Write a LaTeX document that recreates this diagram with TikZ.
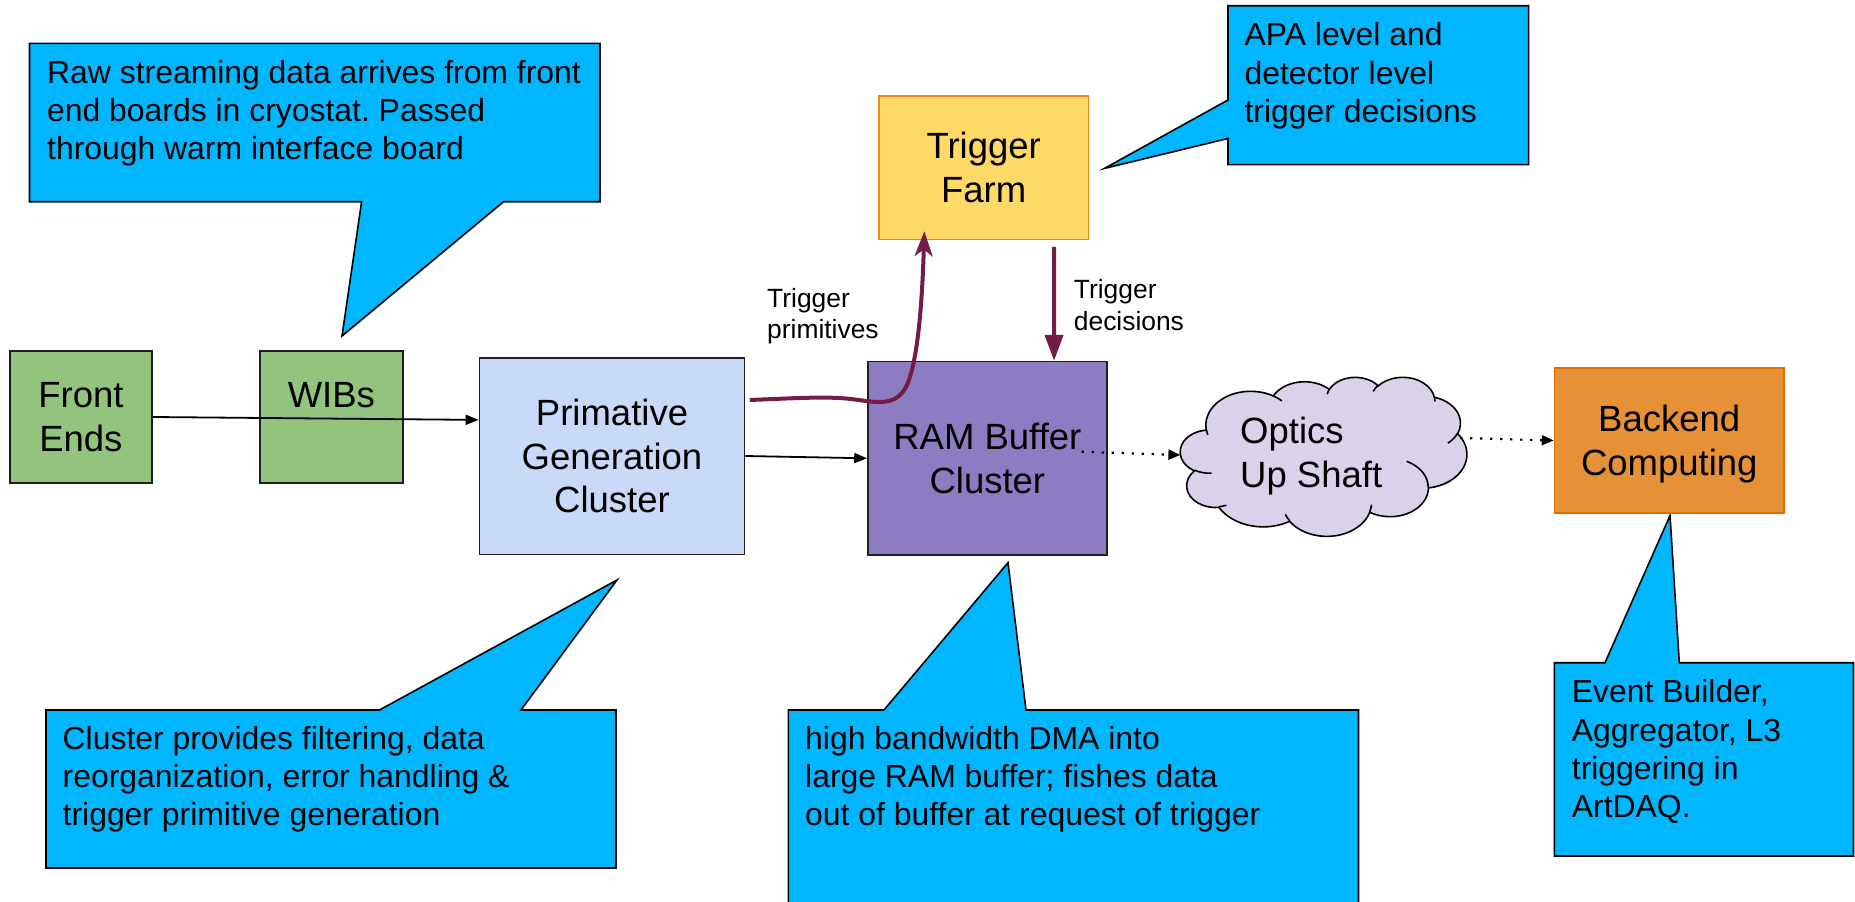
\documentclass[tikz,border=0pt]{standalone}
\usepackage{fontspec}
\setmainfont{Liberation Sans}
\usetikzlibrary{arrows.meta}
\frenchspacing

\definecolor{noteblue}{HTML}{00B7FF}
\definecolor{fegreen}{HTML}{93C47D}
\definecolor{pgcblue}{HTML}{C9DAF8}
\definecolor{tfyellow}{HTML}{FFD966}
\definecolor{tfedge}{HTML}{E98B1E}
\definecolor{rampurple}{HTML}{8E7CC3}
\definecolor{cloudlilac}{HTML}{D9D2E9}
\definecolor{beorange}{HTML}{E69138}
\definecolor{beedge}{HTML}{E06F00}
\definecolor{trigmaroon}{HTML}{741B47}
\definecolor{boxedge}{HTML}{1F1F1F}

% Elliptic arc helper for the cloud outline: radii wR, hR and a start
% angle / sweep given as visual angles; stores the matching parametric
% start and end angles in \clds<name> and \clde<name>.
\newcommand\cloudseg[5]{%
  \pgfmathparse{atan2((#2)*sin(#4),(#3)*cos(#4))}\edef\cldtmpa{\pgfmathresult}%
  \pgfmathparse{atan2((#2)*sin((#4)+(#5)),(#3)*cos((#4)+(#5)))}\edef\cldtmpe{\pgfmathresult}%
  \pgfmathparse{\cldtmpe+360*round((\cldtmpa+(#5)-\cldtmpe)/360)}\edef\cldtmpb{\pgfmathresult}%
  \expandafter\xdef\csname clds#1\endcsname{\cldtmpa}%
  \expandafter\xdef\csname clde#1\endcsname{\cldtmpb}%
}

\begin{document}
\begin{tikzpicture}[x=1pt, y=-1pt,
  box/.style={draw=boxedge, line width=1.6pt, inner sep=0pt, align=center,
              font=\fontsize{36.5}{43.5}\selectfont},
  note/.style={fill=noteblue, draw=black, line width=1.6pt, line join=miter},
  notetext/.style={anchor=north west, inner sep=0pt, align=left,
                   font=\fontsize{31.9}{38.3}\selectfont},
  smalllabel/.style={anchor=north west, inner sep=0pt, align=left,
                     font=\fontsize{26.4}{31.4}\selectfont},
  flow/.style={draw=black, line width=1.8pt, -{Triangle[length=13pt,width=10pt]}},
  link/.style={draw=black, line width=2.2pt, dash pattern=on 2.2pt off 7.8pt,
               -{Triangle[length=12pt,width=10pt]}},
  trig/.style={draw=trigmaroon, line width=4pt},
  cloudline/.style={draw=black, line width=1.6pt}
]
\useasboundingbox (0,0) rectangle (1855,902);

% ---------- callouts ----------
\draw[note] (29.5,43.3) -- (600,43.3) -- (600,201.7) -- (503.6,201.7)
  -- (342,336) -- (361.6,201.7) -- (29.5,201.7) -- cycle;
\node[notetext] (n1) at (47,59.7)
  {Raw streaming data arrives from front\\end boards in cryostat. Passed\\through warm interface board};

\draw[note] (46,710) -- (379.5,710) -- (617,580) -- (521,710) -- (616,710)
  -- (616,868) -- (46,868) -- cycle;
\node[notetext] (n2) at (62.5,726)
  {Cluster provides filtering, data\\reorganization, error handling \&\\trigger primitive generation};

\draw[note] (788.4,710) -- (884,710) -- (1008,562.7) -- (1026,710) -- (1358.5,710)
  -- (1358.5,915) -- (788.4,915) -- cycle;
\node[notetext] (n3) at (805,726)
  {high bandwidth DMA into\\large RAM buffer; fishes data\\out of buffer at request of trigger};

\draw[note] (1228,5.7) -- (1528.6,5.7) -- (1528.6,164.6) -- (1228,164.6)
  -- (1228,138.5) -- (1104.5,168.4) -- (1228,100) -- cycle;
\node[notetext] (n4) at (1244.4,22.4)
  {APA level and\\detector level\\trigger decisions};

\draw[note] (1554.3,662.7) -- (1605,662.7) -- (1670,515.5) -- (1679.3,662.7)
  -- (1853.5,662.7) -- (1853.5,856) -- (1554.3,856) -- cycle;
\node[notetext] (n5) at (1571.7,679.5)
  {Event Builder,\\Aggregator, L3\\triggering in\\ArtDAQ.};

% ---------- blocks ----------
\node[box, fill=fegreen, minimum width=142.2pt, minimum height=132pt] (fe) at (80.9,417) {Front\\Ends};
\node[box, fill=fegreen, minimum width=142.7pt, minimum height=132pt] (wib) at (331.35,417) {WIBs\\\mbox{}};
\node[box, fill=pgcblue, minimum width=265pt, minimum height=196.6pt] (pgc) at (612,456) {Primative\\Generation\\Cluster};
\node[box, fill=tfyellow, draw=tfedge, minimum width=209.4pt, minimum height=143.8pt] (tf) at (983.7,167.6) {Trigger\\Farm};
\node[box, fill=rampurple, minimum width=238.7pt, minimum height=193.4pt] (ram) at (987.35,458.3) {RAM Buffer\\Cluster};
\node[box, fill=beorange, draw=beedge, text depth=0pt, minimum width=229.5pt, minimum height=145pt] (be) at (1669.25,440.5) {Backend\\Computing};

% ---------- cloud ----------
\node[minimum width=286.4pt, minimum height=159pt, inner sep=0pt] (cloud) at (1323.8,456.5) {};
\cloudseg{A}{67.53}{91.90}{-190.4875}{123.7805}
\cloudseg{B}{53.33}{72.67}{-144.1024}{89.9452}
\cloudseg{C}{43.65}{59.45}{-145.8079}{99.7230}
\cloudseg{D}{48.57}{65.95}{-130.9861}{117.2417}
\cloudseg{E}{53.33}{72.73}{-78.7089}{109.0269}
\cloudseg{F}{67.75}{92.20}{-46.2673}{130.2690}
\cloudseg{G}{57.85}{78.67}{0.6250}{114.0333}
\cloudseg{H}{67.52}{92.15}{22.4516}{115.1726}
\cloudseg{I}{77.20}{105.43}{66.2426}{75.7110}
\cloudseg{J}{43.60}{59.18}{-274.9421}{146.7356}
\cloudseg{K}{43.45}{59.45}{-246.8285}{152.5189}
\cloudseg{L}{43.45}{59.45}{86.7420}{26.4295}
\cloudseg{M}{43.60}{59.18}{73.6105}{11.4475}
\cloudseg{N}{67.52}{92.15}{137.6241}{14.0811}
\cloudseg{O}{67.52}{92.15}{6.4533}{15.9984}
\cloudseg{P}{57.85}{78.67}{-70.2924}{70.9174}
\cloudseg{Q}{53.33}{72.73}{30.3180}{27.7515}
\cloudseg{R}{48.57}{65.95}{-13.7443}{14.8589}
\cloudseg{S}{48.57}{65.95}{-149.1815}{18.1954}
\cloudseg{T}{43.65}{59.45}{-163.4943}{17.6864}
\cloudseg{U}{67.53}{91.90}{-66.7070}{12.3194}
\cloudseg{V}{67.53}{91.90}{157.6544}{11.8582}
\begin{scope}[shift={(cloud.north west)}, xscale=0.66296, yscale=-0.36806]
  \draw[cloudline, fill=cloudlilac] (39pt,143.70pt)
    arc[start angle=\cldsA, end angle=\cldeA, x radius=67.53pt, y radius=91.90pt]
    arc[start angle=\cldsB, end angle=\cldeB, x radius=53.33pt, y radius=72.67pt]
    arc[start angle=\cldsC, end angle=\cldeC, x radius=43.65pt, y radius=59.45pt]
    arc[start angle=\cldsD, end angle=\cldeD, x radius=48.57pt, y radius=65.95pt]
    arc[start angle=\cldsE, end angle=\cldeE, x radius=53.33pt, y radius=72.73pt]
    arc[start angle=\cldsF, end angle=\cldeF, x radius=67.75pt, y radius=92.20pt]
    arc[start angle=\cldsG, end angle=\cldeG, x radius=57.85pt, y radius=78.67pt]
    arc[start angle=\cldsH, end angle=\cldeH, x radius=67.52pt, y radius=92.15pt]
    arc[start angle=\cldsI, end angle=\cldeI, x radius=77.20pt, y radius=105.43pt]
    arc[start angle=\cldsJ, end angle=\cldeJ, x radius=43.60pt, y radius=59.18pt]
    arc[start angle=\cldsK, end angle=\cldeK, x radius=43.45pt, y radius=59.45pt]
    -- cycle;
  % inner curls of the puffs
  \draw[cloudline] (46.93pt,261.77pt) arc[start angle=\cldsL, end angle=\cldeL, x radius=43.45pt, y radius=59.45pt];
  \draw[cloudline] (69.28pt,348.99pt) arc[start angle=\cldsM, end angle=\cldeM, x radius=43.60pt, y radius=59.18pt];
  \draw[cloudline] (164.78pt,390.90pt) arc[start angle=\cldsN, end angle=\cldeN, x radius=67.52pt, y radius=92.15pt];
  \draw[cloudline] (288.27pt,347.51pt) arc[start angle=\cldsO, end angle=\cldeO, x radius=67.52pt, y radius=92.15pt];
  \draw[cloudline] (341.29pt,229.54pt) arc[start angle=\cldsP, end angle=\cldeP, x radius=57.85pt, y radius=78.67pt];
  \draw[cloudline] (417.98pt,153.54pt) arc[start angle=\cldsQ, end angle=\cldeQ, x radius=53.33pt, y radius=72.73pt];
  \draw[cloudline] (383.24pt,54.26pt) arc[start angle=\cldsR, end angle=\cldeR, x radius=48.57pt, y radius=65.95pt];
  \draw[cloudline] (290.78pt,39.52pt) arc[start angle=\cldsS, end angle=\cldeS, x radius=48.57pt, y radius=65.95pt];
  \draw[cloudline] (221.41pt,47.20pt) arc[start angle=\cldsT, end angle=\cldeT, x radius=43.65pt, y radius=59.45pt];
  \draw[cloudline] (140.00pt,51.92pt) arc[start angle=\cldsU, end angle=\cldeU, x radius=67.53pt, y radius=91.90pt];
  \draw[cloudline] (41.27pt,157.89pt) arc[start angle=\cldsV, end angle=\cldeV, x radius=67.53pt, y radius=91.90pt];
\end{scope}
\node[anchor=north west, inner sep=0pt, align=left, font=\fontsize{36.5}{43.5}\selectfont]
  (optics) at (1240,417) {Optics\\Up Shaft};

% ---------- labels ----------
\node[smalllabel] (tplabel) at (767,288) {Trigger\\primitives};
\node[smalllabel] (tdlabel) at (1073.7,279.5) {Trigger\\decisions};

% ---------- connectors ----------
\draw[flow] (fe.east) -- ([yshift=-63pt]pgc.north west);
\draw[flow] (pgc.east) -- (ram.west);
\draw[link] ([xshift=94.3pt,yshift=6.6pt]ram.center) -- ([yshift=1.5pt]cloud.west);
\draw[link] ([xshift=-7pt,yshift=18.5pt]cloud.east) -- (be.west);
\draw[trig, -{Stealth[length=25pt,width=18pt,inset=7pt]}]
  ([xshift=4.5pt,yshift=56pt]pgc.east)
  .. controls (800,398) and (830,396) .. (855,399.5)
  .. controls (880,403) and (897,406) .. (907,385)
  .. controls (917,362) and (922,310) .. ([xshift=-59.4pt,yshift=9pt]tf.south);
\draw[trig, -{Triangle[length=26pt,width=18pt]}]
  ([xshift=70.3pt,yshift=-6.5pt]tf.south) -- ([xshift=66.7pt]ram.north);
\end{tikzpicture}
\end{document}
